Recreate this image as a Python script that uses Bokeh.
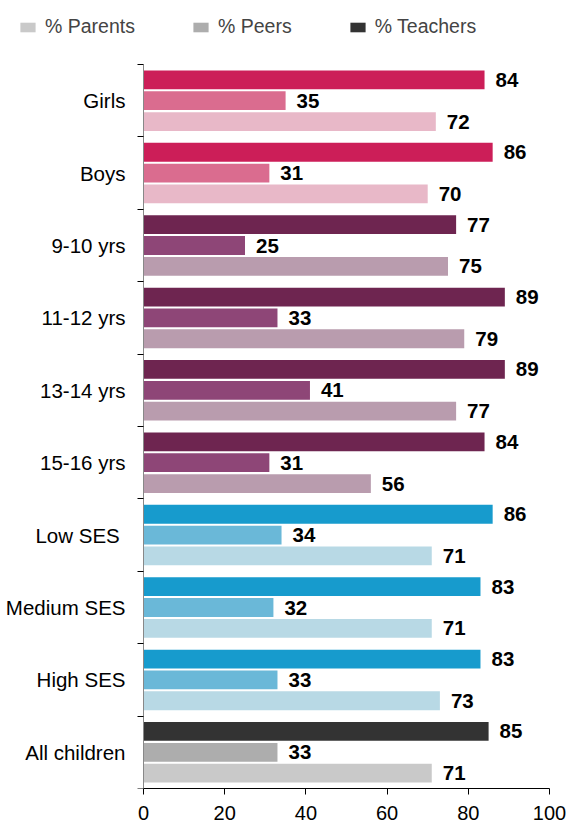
from bokeh.plotting import figure
from bokeh.models import Range1d, FixedTicker, ColumnDataSource, Legend, LegendItem
from bokeh.core.properties import value
from bokeh.embed import file_html
from bokeh.resources import INLINE

# ---- data ----
categories = ["Girls", "Boys", "9-10 yrs", "11-12 yrs", "13-14 yrs", "15-16 yrs",
              "Low  SES", "Medium SES", "High SES", "All children"]
groups = ["gender", "gender", "age", "age", "age", "age", "ses", "ses", "ses", "all"]
teachers = [84, 86, 77, 89, 89, 84, 86, 83, 83, 85]
peers = [35, 31, 25, 33, 41, 31, 34, 32, 33, 33]
parents = [72, 70, 75, 79, 77, 56, 71, 71, 73, 71]
x_ticks = [0, 20, 40, 60, 80, 100]
legend_labels = ["% Parents", "% Peers", "% Teachers"]

# ---- style / layout ----
palette = {  # (teachers, peers, parents)
    "gender": ("#CC1E58", "#DA6C8F", "#E8B8C8"),
    "age": ("#6E2550", "#8E4677", "#B99CAE"),
    "ses": ("#179BCD", "#6AB8D8", "#B8D9E5"),
    "all": ("#333333", "#ADADAD", "#C9C9C9"),
}
FONT = "Liberation Sans"
PITCH = 0.576
BAR_H = 0.52
W, H = 573, 827
BOTTOM = 39                 # room for x tick labels
PLOT_L, PLOT_R = 143, 549   # pixel extent of the 0..100 value axis
PLOT_T = 64                 # pixel top of the category area

n = len(categories)
x_max = x_ticks[-1]
px_per_x = (PLOT_R - PLOT_L) / x_max
frame_h = H - BOTTOM
px_per_y = (frame_h - PLOT_T) / (2 * n)

p = figure(width=W, height=H, output_backend="svg", toolbar_location=None,
           x_range=Range1d(-PLOT_L / px_per_x, x_max + (W - PLOT_R) / px_per_x),
           y_range=Range1d(2 * n, -PLOT_T / px_per_y),
           min_border_left=0, min_border_right=0, min_border_top=0,
           min_border_bottom=BOTTOM)
p.grid.visible = False
p.outline_line_color = None

series = [(teachers, 0), (peers, 1), (parents, 2)]
bar_renderers = []
for vals, k in series:
    ys = [2 * i + 1 + (k - 1) * PITCH for i in range(n)]
    cols = [palette[g][k] for g in groups]
    src = ColumnDataSource(dict(y=ys, v=vals, color=cols, lab=[str(v) for v in vals]))
    r = p.hbar(y="y", left=0, right="v", height=BAR_H, fill_color="color",
               line_color=None, source=src)
    bar_renderers.append(r)
    p.text(x="v", y="y", text="lab", source=src, x_offset=11,
           text_baseline="middle", text_align="left",
           text_font=value(FONT), text_font_style="bold",
           text_font_size="20.5px", text_color="black")

# legend uses the "All children" bars (grey) as swatches
all_idx = groups.index("all")
legend = Legend(items=[LegendItem(label=legend_labels[0], renderers=[bar_renderers[2]], index=all_idx),
                       LegendItem(label=legend_labels[1], renderers=[bar_renderers[1]], index=all_idx),
                       LegendItem(label=legend_labels[2], renderers=[bar_renderers[0]], index=all_idx)],
                orientation="horizontal", location=(18, frame_h - 38),
                glyph_width=19, glyph_height=12, label_standoff=8, spacing=56,
                padding=0, margin=0, border_line_color=None, background_fill_alpha=0,
                label_text_font=FONT, label_text_font_size="19.5px", label_height=20)
p.add_layout(legend)

# y axis (drawn at value 0)
ya = p.yaxis[0]
ya.fixed_location = 0
ya.bounds = (0, 2 * n)
ya.ticker = FixedTicker(ticks=[2 * i + 1 for i in range(n)],
                        minor_ticks=[2 * i for i in range(n + 1)])
ya.major_label_overrides = {2 * i + 1: c for i, c in enumerate(categories)}
ya.major_tick_out = 0
ya.major_tick_in = 0
ya.minor_tick_out = 6
ya.minor_tick_in = 0
ya.minor_tick_line_color = "black"
ya.axis_line_color = "#888888"
ya.major_label_standoff = 12
ya.major_label_text_font = FONT
ya.major_label_text_font_size = "20.5px"
ya.major_label_text_color = "black"

# x axis
xa = p.xaxis[0]
xa.bounds = (0, x_max)
xa.ticker = FixedTicker(ticks=x_ticks, minor_ticks=[])
xa.axis_line_color = "black"
xa.major_tick_line_color = "black"
xa.major_tick_out = 6
xa.major_tick_in = 0
xa.minor_tick_out = 0
xa.minor_tick_in = 0
xa.major_label_standoff = 11
xa.major_label_text_font = FONT
xa.major_label_text_font_size = "20px"
xa.major_label_text_color = "black"

open("out.html", "w").write(file_html(p, INLINE))
